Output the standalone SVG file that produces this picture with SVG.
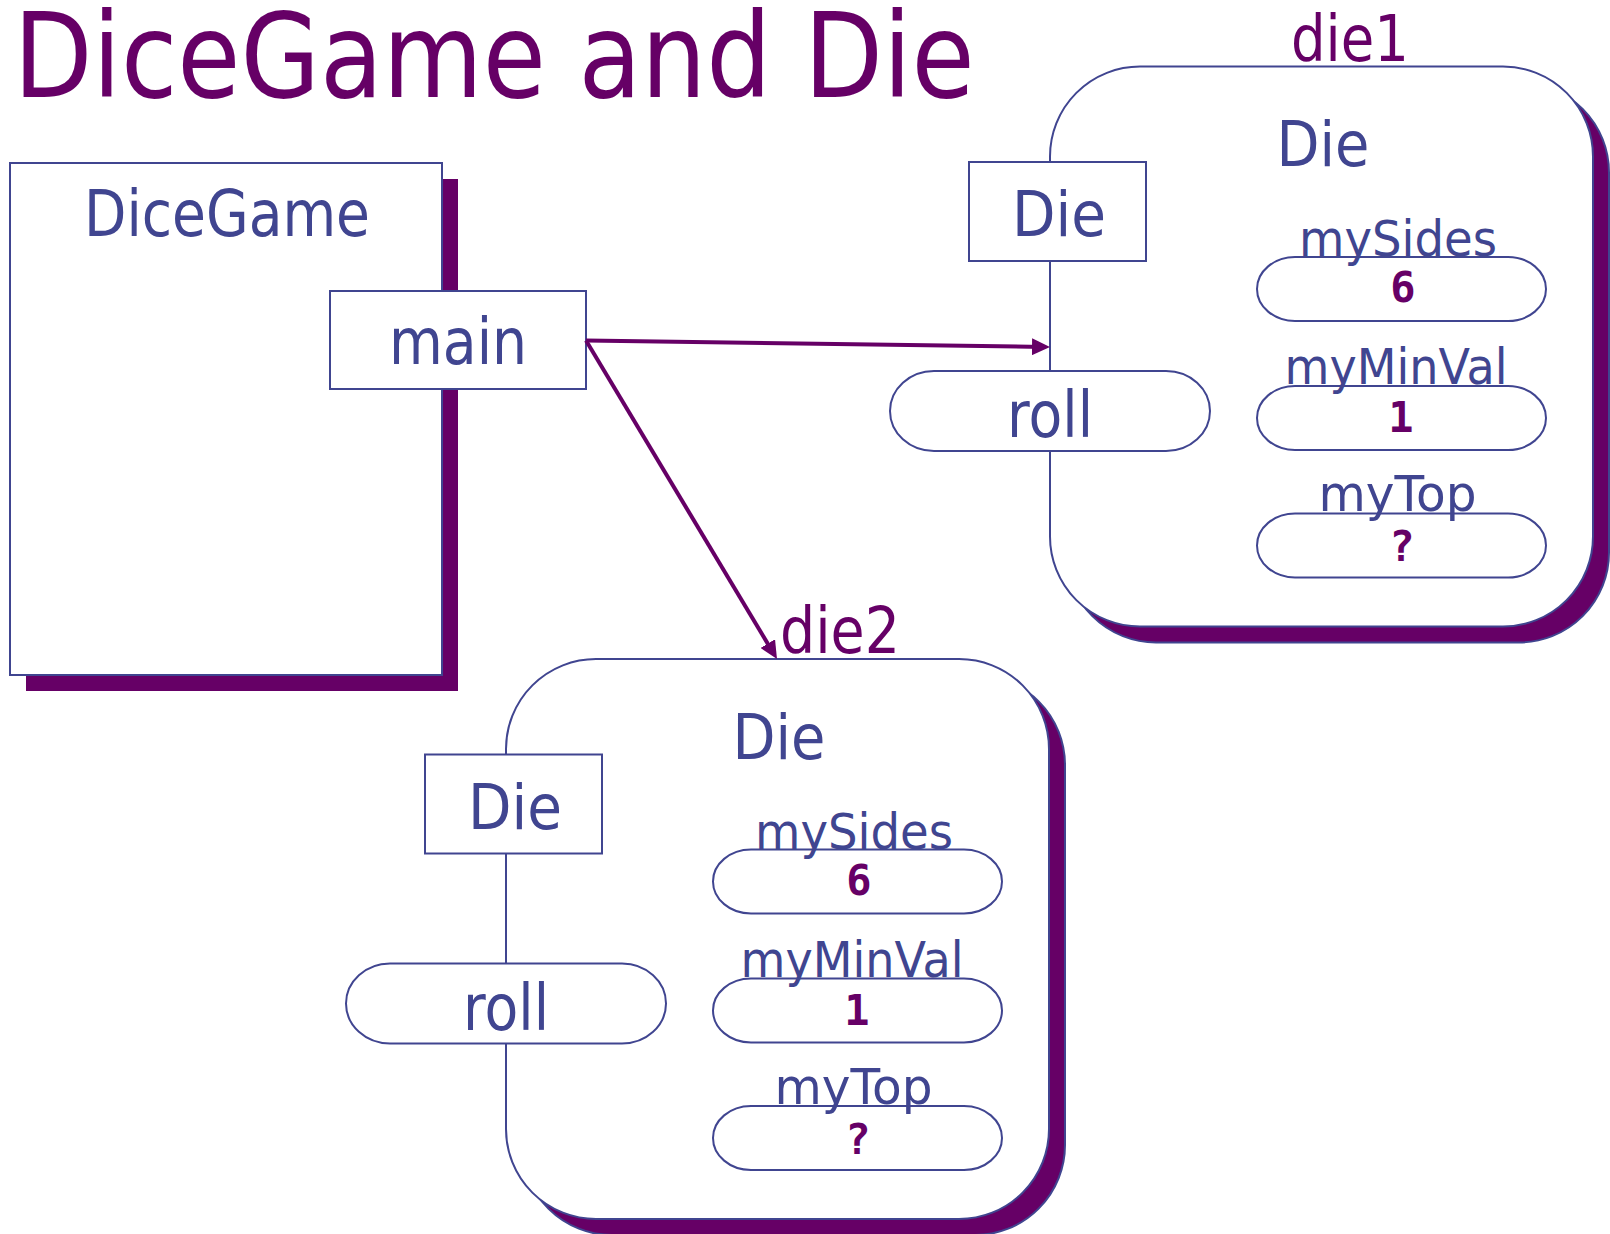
<svg xmlns="http://www.w3.org/2000/svg" width="1610" height="1234" viewBox="0 0 1610 1234">
<defs>
<style>
.bl{fill:#fff;stroke:#404590;stroke-width:2}
.sh{fill:#660066;stroke:#404590;stroke-width:2}
.shp{fill:#660066;stroke:none}
.t{font-family:"DejaVu Sans",sans-serif;fill:#404590;text-anchor:middle}
.p{font-family:"DejaVu Sans",sans-serif;fill:#660066;text-anchor:middle}
.v{font-family:"DejaVu Sans Mono",monospace;font-weight:bold;fill:#660066;text-anchor:middle;font-size:42px}
.big{font-size:64px}
.att{font-size:49px}
.con{stroke:#660066;stroke-width:4;fill:none}
</style>
<marker id="ah" markerUnits="userSpaceOnUse" markerWidth="18" markerHeight="17" refX="12" refY="8.5" orient="auto">
<path d="M0,0 L18,8.5 L0,17 Z" fill="#660066"/>
</marker>
</defs>
<rect width="1610" height="1234" fill="#fff"/>

<g id="title">
<text class="p" x="494" y="97" font-size="117" textLength="961" lengthAdjust="spacingAndGlyphs">DiceGame and Die</text>
</g>

<g id="dicegame">
<rect class="shp" x="26" y="179" width="432" height="512"/>
<rect class="bl" x="10" y="163" width="432" height="512"/>
<text class="t big" x="227" y="236" textLength="286" lengthAdjust="spacingAndGlyphs">DiceGame</text>
</g>

<g id="main">
<rect class="bl" x="330" y="291" width="256" height="98"/>
<text class="t big" x="458" y="364" textLength="138" lengthAdjust="spacingAndGlyphs">main</text>
</g>

<g id="die1">
<text class="p big" x="1350" y="61" textLength="118" lengthAdjust="spacingAndGlyphs">die1</text>
<rect class="sh" x="1066" y="82.5" width="543" height="560" rx="90" ry="90"/>
<rect class="bl" x="1050" y="66.5" width="543" height="560" rx="90" ry="90"/>
<text class="t" x="1323" y="166" font-size="62" textLength="93" lengthAdjust="spacingAndGlyphs">Die</text>
<rect class="bl" x="969" y="162" width="177" height="99"/>
<text class="t" x="1059" y="236" font-size="63" textLength="94" lengthAdjust="spacingAndGlyphs">Die</text>
<rect class="bl" x="890" y="371" width="320" height="80" rx="44" ry="40"/>
<text class="t big" x="1050" y="437" textLength="86" lengthAdjust="spacingAndGlyphs">roll</text>
<rect class="bl" x="1257" y="257" width="289" height="64" rx="38" ry="32"/>
<text class="t att" x="1398" y="256" textLength="198" lengthAdjust="spacingAndGlyphs">mySides</text>
<text class="v" x="1403" y="302">6</text>
<rect class="bl" x="1257" y="386" width="289" height="64" rx="38" ry="32"/>
<text class="t att" x="1396" y="384" textLength="223" lengthAdjust="spacingAndGlyphs">myMinVal</text>
<text class="v" x="1401" y="432">1</text>
<rect class="bl" x="1257" y="513.5" width="289" height="64" rx="38" ry="32"/>
<text class="t att" x="1397.5" y="511" textLength="158" lengthAdjust="spacingAndGlyphs">myTop</text>
<text class="v" x="1402" y="561">?</text>
</g>

<g id="die2">
<text class="p big" x="840" y="653" textLength="120" lengthAdjust="spacingAndGlyphs">die2</text>
<g transform="translate(-544,592.5)">
<rect class="sh" x="1066" y="82.5" width="543" height="560" rx="90" ry="90"/>
<rect class="bl" x="1050" y="66.5" width="543" height="560" rx="90" ry="90"/>
<text class="t" x="1323" y="166" font-size="62" textLength="93" lengthAdjust="spacingAndGlyphs">Die</text>
<rect class="bl" x="969" y="162" width="177" height="99"/>
<text class="t" x="1059" y="236" font-size="63" textLength="94" lengthAdjust="spacingAndGlyphs">Die</text>
<rect class="bl" x="890" y="371" width="320" height="80" rx="44" ry="40"/>
<text class="t big" x="1050" y="437" textLength="86" lengthAdjust="spacingAndGlyphs">roll</text>
<rect class="bl" x="1257" y="257" width="289" height="64" rx="38" ry="32"/>
<text class="t att" x="1398" y="256" textLength="198" lengthAdjust="spacingAndGlyphs">mySides</text>
<text class="v" x="1403" y="302">6</text>
<rect class="bl" x="1257" y="386" width="289" height="64" rx="38" ry="32"/>
<text class="t att" x="1396" y="384" textLength="223" lengthAdjust="spacingAndGlyphs">myMinVal</text>
<text class="v" x="1401" y="432">1</text>
<rect class="bl" x="1257" y="513.5" width="289" height="64" rx="38" ry="32"/>
<text class="t att" x="1397.5" y="511" textLength="158" lengthAdjust="spacingAndGlyphs">myTop</text>
<text class="v" x="1402" y="561">?</text>
</g>
</g>

<g id="connectors">
<line class="con" x1="586" y1="340.5" x2="1044" y2="346.9" marker-end="url(#ah)"/>
<line class="con" x1="586" y1="340.5" x2="773.9" y2="653.9" marker-end="url(#ah)"/>
</g>
</svg>
